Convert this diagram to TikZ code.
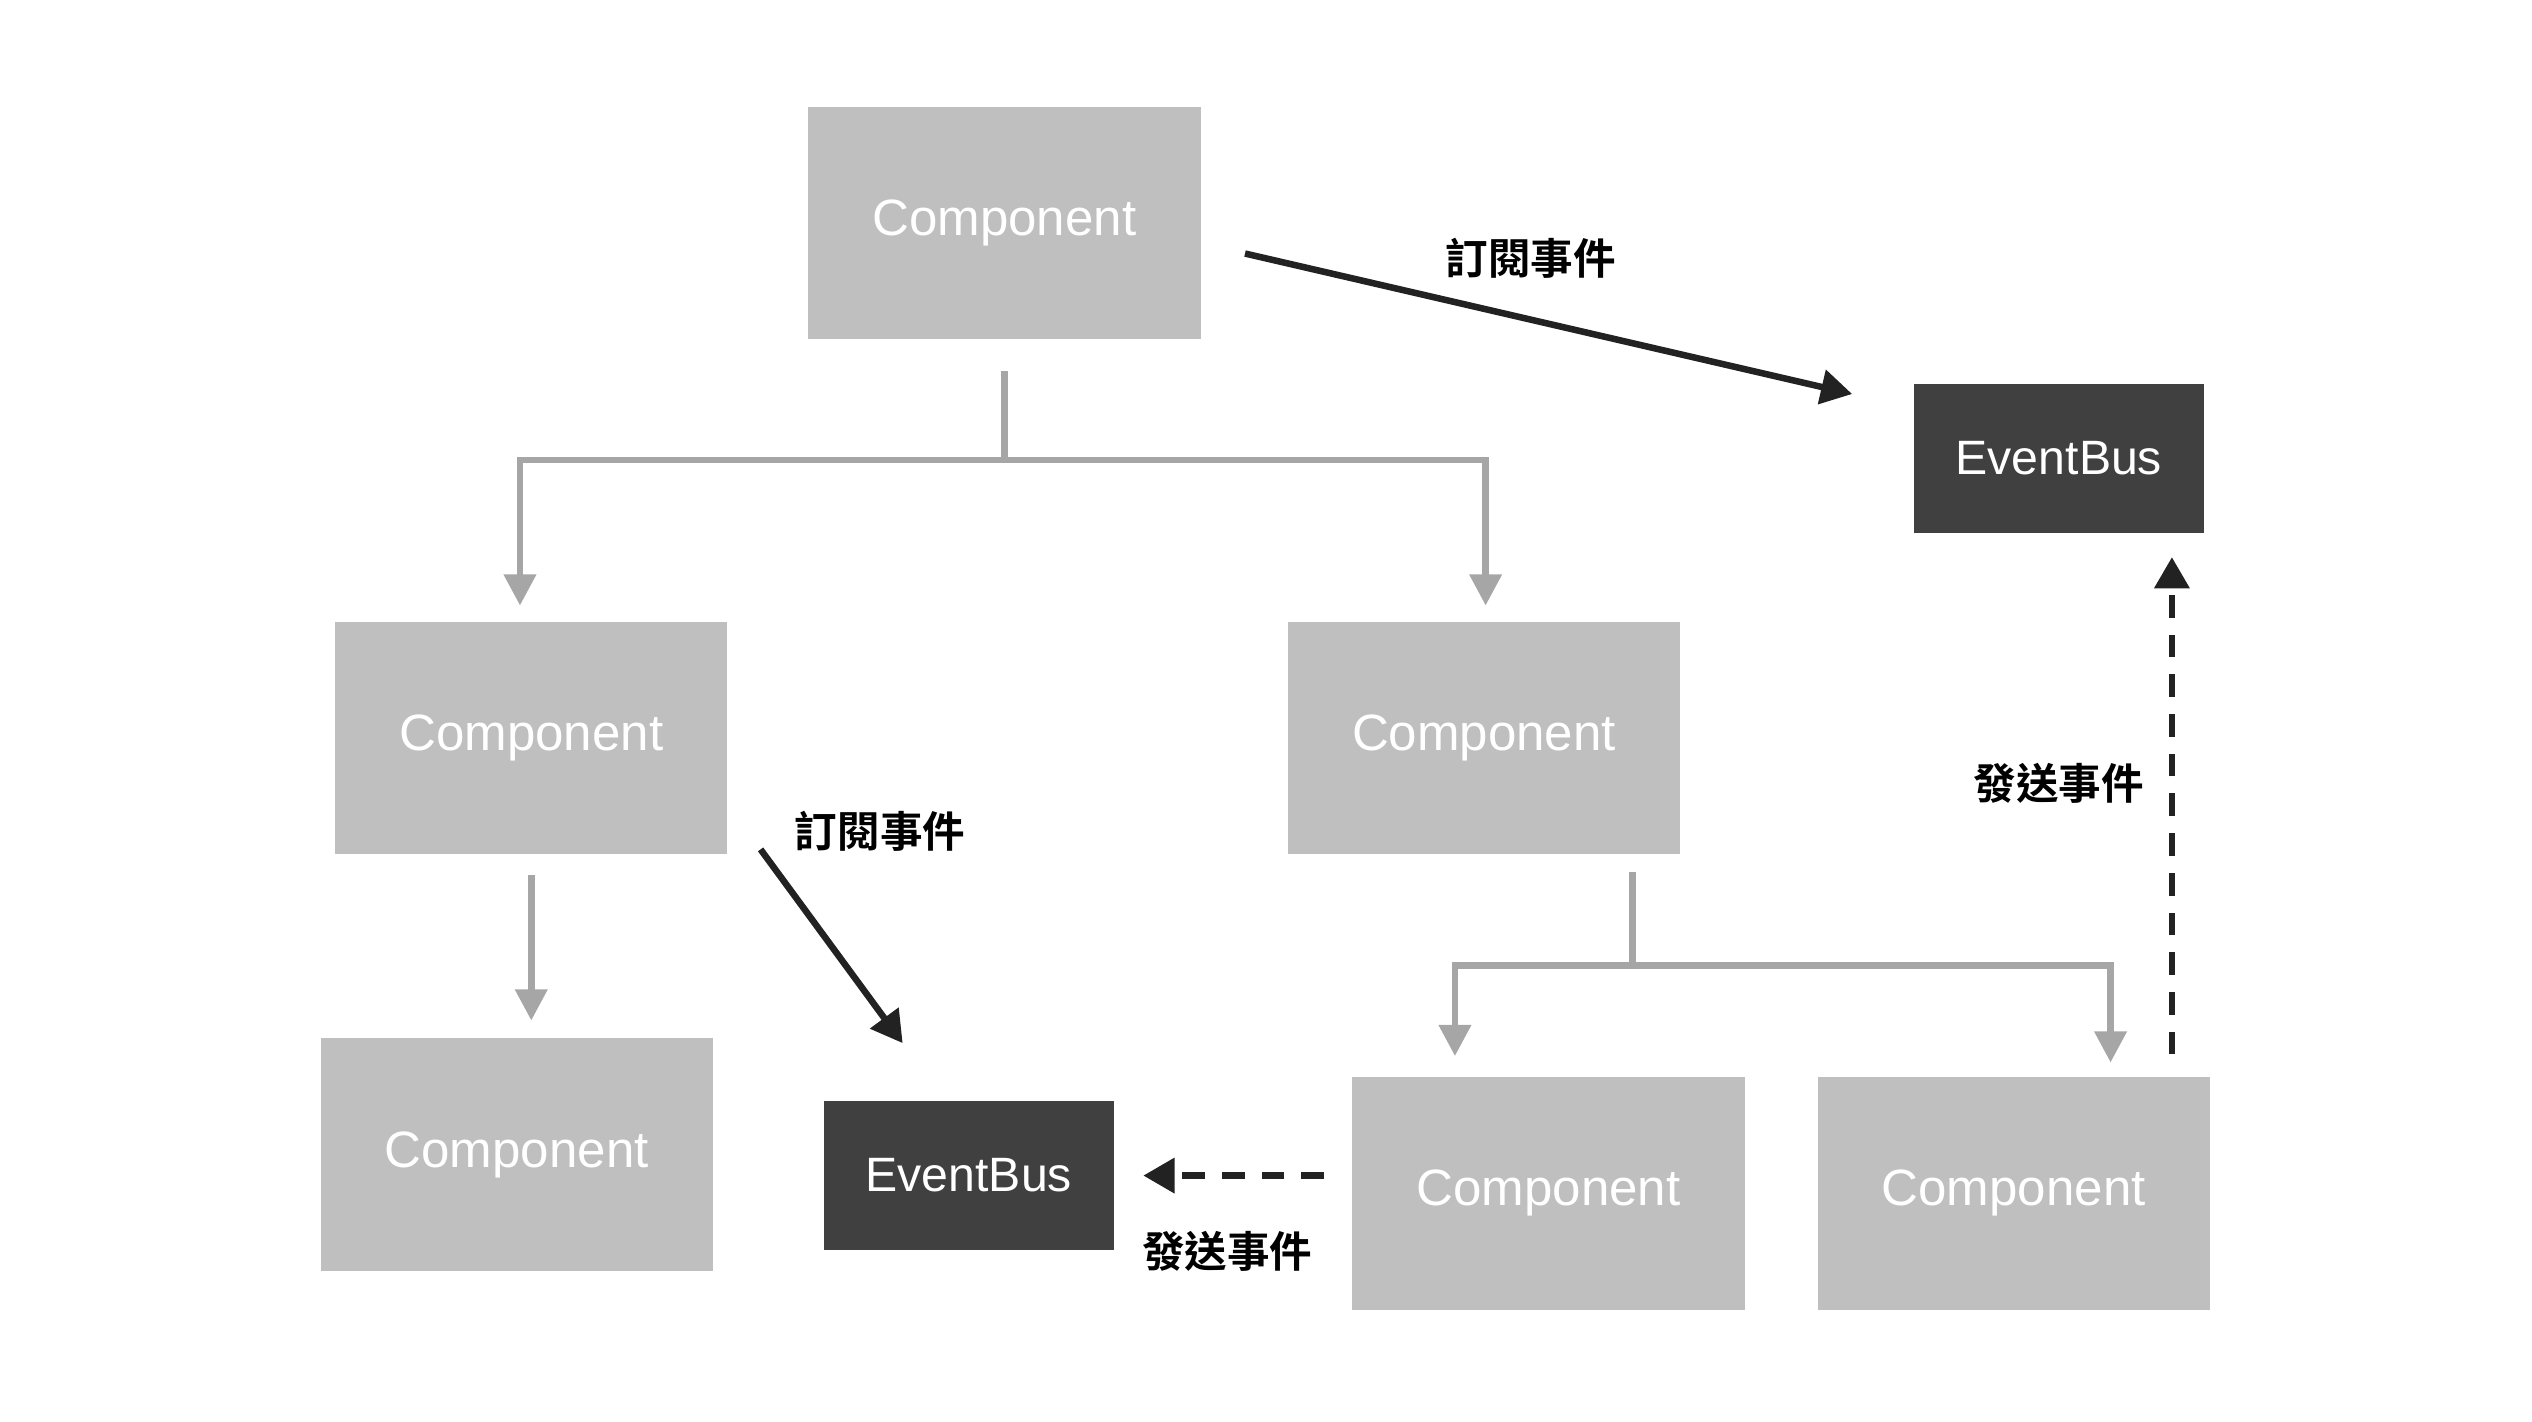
\documentclass[tikz,border=0pt]{standalone}
\usepackage{fontspec}
\setmainfont{Liberation Sans}
\newfontfamily\cjk{Noto Sans CJK TC}[BoldFont={Noto Sans CJK TC Bold}]
\usetikzlibrary{arrows.meta}
\begin{document}
\begin{tikzpicture}[x=0.02cm,y=-0.02cm,
 comp/.style={fill=boxgray,text=white,font=\fontsize{18}{20}\selectfont,inner sep=0,minimum width=4.86cm,minimum height=2.88cm},
 bus/.style={fill=busdark,text=white,font=\fontsize{17}{20}\selectfont,inner sep=0,minimum width=3.6cm,minimum height=1.84cm},
 tree/.style={draw=linegray,line width=2.3pt},
 treearr/.style={tree,-{Triangle[length=11pt,width=11pt]}},
 ev/.style={draw=evdark,line width=2.3pt,-{Triangle[length=11pt,width=12pt]}},
 evd/.style={ev,dash pattern=on 8pt off 6pt},
 lab/.style={font=\cjk\bfseries\fontsize{15}{18}\selectfont,text=black}]
\definecolor{boxgray}{HTML}{BFBFBF}
\definecolor{busdark}{HTML}{404040}
\definecolor{linegray}{HTML}{A6A6A6}
\definecolor{evdark}{HTML}{222222}
\useasboundingbox (0,0) rectangle (1568,880.5);
\node[comp] (top) at (622,138) {Component};
\node[bus] (bus1) at (1275,284) {EventBus};
\node[comp] (ml) at (329,457) {Component};
\node[comp] (mr) at (919,457) {Component};
\node[comp] (bl) at (320,715) {Component};
\node[bus] (bus2) at (600,728) {EventBus};
\node[comp] (b1) at (959,739) {Component};
\node[comp] (b2) at (1247,739) {Component};
\coordinate (t0) at (622,230); \coordinate (t1) at (622,285);
\coordinate (tl) at (322,285); \coordinate (tr) at (920,285);
\coordinate (tle) at (322,375); \coordinate (tre) at (920,375);
\draw[tree] (t0) -- (t1);
\draw[treearr] (t1) -- (tl) -- (tle);
\draw[treearr] (t1) -- (tr) -- (tre);
\coordinate (l0) at (329,542); \coordinate (l1) at (329,632);
\draw[treearr] (l0) -- (l1);
\coordinate (r0) at (1011,540); \coordinate (r1) at (1011,598);
\coordinate (rl) at (901,598); \coordinate (rr) at (1307,598);
\coordinate (rle) at (901,654); \coordinate (rre) at (1307,658);
\draw[tree] (r0) -- (r1);
\draw[treearr] (r1) -- (rl) -- (rle);
\draw[treearr] (r1) -- (rr) -- (rre);
\coordinate (a0) at (771,157); \coordinate (a1) at (1147,244);
\draw[ev] (a0) -- (a1);
\node[lab] (la) at (948,160) {訂閱事件};
\coordinate (c0) at (471,526); \coordinate (c1) at (559,646);
\draw[ev] (c0) -- (c1);
\node[lab] (lc) at (545,515) {訂閱事件};
\coordinate (d0) at (820,728); \coordinate (d1) at (708,728);
\draw[evd] (d0) -- (d1);
\node[lab] (ld) at (760,775) {發送事件};
\coordinate (e0) at (1345,653); \coordinate (e1) at (1345,345);
\draw[evd] (e0) -- (e1);
\node[lab] (le) at (1275,485) {發送事件};
\end{tikzpicture}
\end{document}
